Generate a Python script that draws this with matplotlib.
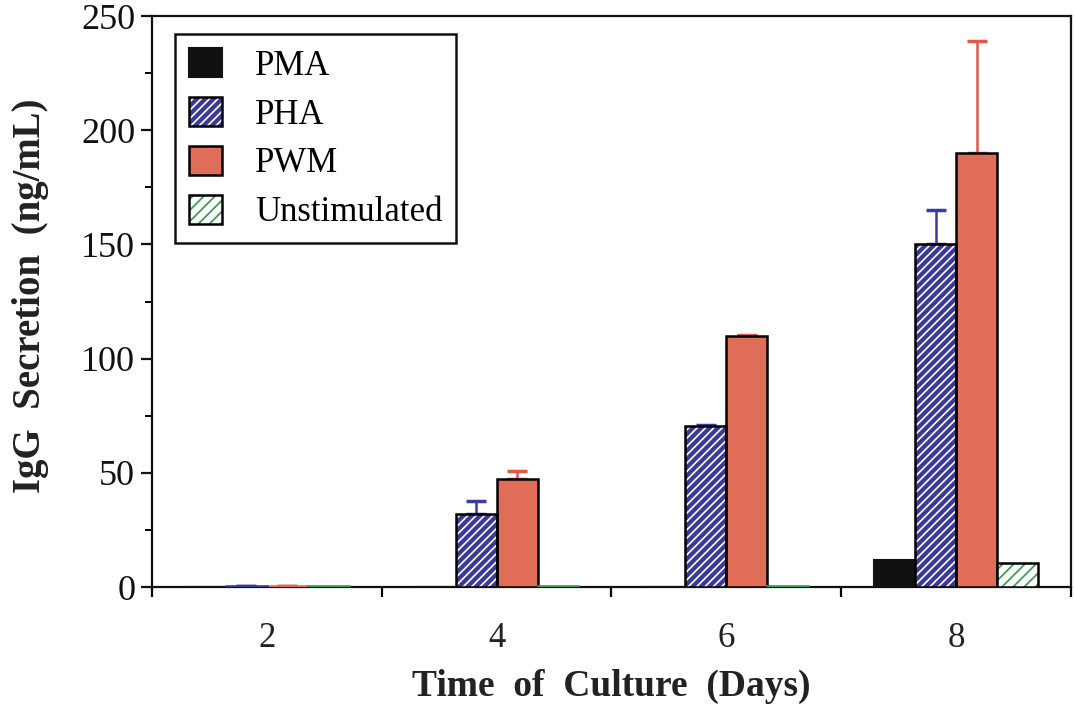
import matplotlib
matplotlib.use("Agg")
import matplotlib.pyplot as plt
from matplotlib.patches import Patch
from matplotlib.legend_handler import HandlerTuple
import numpy as np

days = ["2", "4", "6", "8"]
series = ["PMA", "PHA", "PWM", "Unstimulated"]
pma = [0.0, 0.0, 0.0, 12.0]
pha = [0.6, 32.0, 70.5, 150.0]
pwm = [0.6, 47.5, 110.0, 190.0]
unstim = [0.6, 0.6, 0.6, 10.5]
pha_err = [0.0, 5.5, 0.3, 15.0]
pwm_err = [0.0, 3.2, 0.4, 49.0]
y_ticks = [0, 50, 100, 150, 200, 250]

plt.rcParams['font.family'] = ['Liberation Serif', 'DejaVu Serif']
plt.rcParams['hatch.linewidth'] = 1.2

fig = plt.figure(figsize=(10.74, 7.08), dpi=100)
ax = fig.add_axes([0.1415, 0.1709, 0.8557, 0.8065])

x = np.arange(len(days))
w = 0.178
offsets = [-1.5 * w, -0.5 * w, 0.5 * w, 1.5 * w]

c_pha = "#3b3a98"
c_pwm = "#df6d58"
c_green = "#2f9a4c"
c_pha_err = "#3a3aa6"
c_pwm_err = "#e0584a"

def edge_for(vals, color):
    return ["black" if v >= 2 else color for v in vals]

# PMA
ax.bar(x + offsets[0], pma, w, color="#111111", edgecolor="#111111", linewidth=1.5, zorder=3)
# PHA: blue with white hatch
ax.bar(x + offsets[1], pha, w, color=c_pha, edgecolor="white", hatch="////", linewidth=0, zorder=3)
ax.bar(x + offsets[1], pha, w, fill=False, edgecolor=edge_for(pha, c_pha), linewidth=1.8, zorder=4)
# PWM
ax.bar(x + offsets[2], pwm, w, color=c_pwm, edgecolor=edge_for(pwm, c_pwm), linewidth=1.8, zorder=3)
# Unstimulated: white with green hatch
ax.bar(x + offsets[3], unstim, w, color="white", edgecolor=c_green, hatch="///", linewidth=0, zorder=3)
ax.bar(x + offsets[3], unstim, w, fill=False, edgecolor=edge_for(unstim, c_green), linewidth=1.8, zorder=4)

# error bars (upper only)
ax.errorbar(x + offsets[1], pha, yerr=[np.zeros(len(pha)), pha_err], fmt="none",
            ecolor=c_pha_err, elinewidth=1.8, capsize=7, capthick=2.5, zorder=2)
ax.errorbar(x + offsets[2], pwm, yerr=[np.zeros(len(pwm)), pwm_err], fmt="none",
            ecolor=c_pwm_err, elinewidth=1.8, capsize=7, capthick=2.5, zorder=2)

ax.set_xlim(-0.5, len(days) - 0.5)
ax.set_ylim(0, 250)
ax.set_yticks(y_ticks)
ax.set_yticks(np.arange(0, 251, 25), minor=True)
ax.set_xticks(x)
ax.set_xticklabels(days)
ax.set_xticks(np.arange(-0.5, len(days), 1.0), minor=True)

for s in ax.spines.values():
    s.set_linewidth(1.6)
    s.set_color("#111111")

ax.tick_params(axis="y", which="major", direction="out", length=8, width=1.6,
               labelsize=26, pad=4, colors="#111111")
ax.tick_params(axis="y", which="minor", direction="out", length=5, width=1.4)
ax.tick_params(axis="x", which="major", length=0, labelsize=25, pad=25, colors="#222222")
ax.tick_params(axis="x", which="minor", direction="out", length=7, width=1.6)

ax.set_xlabel("Time  of  Culture  (Days)", fontsize=27, fontweight="bold", color="#222222")
ax.xaxis.set_label_coords(0.5, -0.143)
ax.set_ylabel("IgG  Secretion  (ng/mL)", fontsize=28, fontweight="bold", color="#222222")
ax.yaxis.set_label_coords(-0.112, 0.51)

# legend handles
h_pma = Patch(facecolor="#111111", edgecolor="#111111", linewidth=1.5)
h_pha = (Patch(facecolor=c_pha, edgecolor="white", hatch="////", linewidth=0),
         Patch(fill=False, edgecolor="black", linewidth=1.8))
h_pwm = Patch(facecolor=c_pwm, edgecolor="black", linewidth=1.8)
h_un = (Patch(facecolor="white", edgecolor=c_green, hatch="///", linewidth=0),
        Patch(fill=False, edgecolor="black", linewidth=1.8))

leg = ax.legend([h_pma, h_pha, h_pwm, h_un], series,
                handler_map={tuple: HandlerTuple(ndivide=1, pad=0)},
                loc="upper left", bbox_to_anchor=(0.025, 0.968), borderaxespad=0,
                fontsize=25, frameon=True, fancybox=False, framealpha=1,
                edgecolor="#111111", handlelength=0.95, handleheight=0.9,
                handletextpad=0.95, labelspacing=0.42, borderpad=0.4)
leg.get_frame().set_linewidth(1.8)

fig.savefig("out.png", dpi=100)
